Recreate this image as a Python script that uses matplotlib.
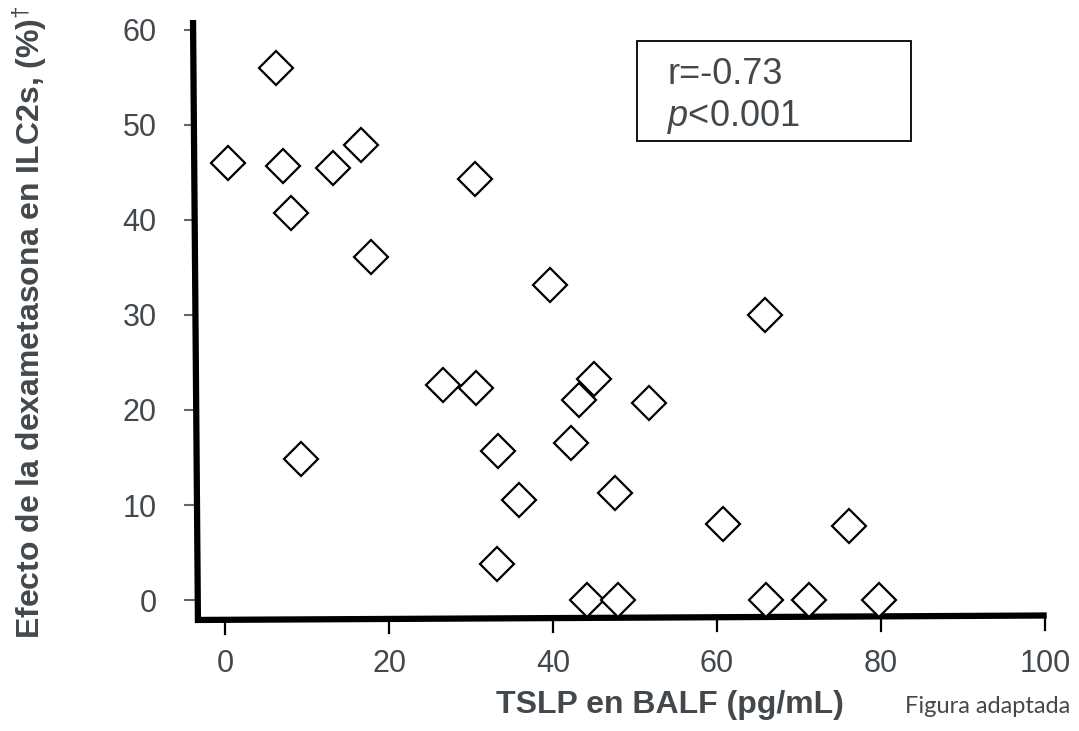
import matplotlib
matplotlib.use("Agg")
import matplotlib.pyplot as plt
from matplotlib.patches import Rectangle
import numpy as np

# TSLP in BALF (pg/mL) vs dexamethasone effect on ILC2s (%)
tslp = [0.4, 6.2, 7.1, 8.0, 9.3, 13.2, 16.6, 17.8, 26.6, 30.5, 30.6, 33.3, 33.2, 35.9,
        39.6, 42.2, 43.2, 45.0, 44.1, 47.6, 47.9, 51.7, 60.7, 65.9, 66.0, 71.2, 76.1, 79.8]
efecto = [46.0, 56.0, 45.7, 40.7, 14.8, 45.5, 47.9, 36.1, 22.6, 44.3, 22.3, 15.7, 3.8, 10.5,
          33.2, 16.5, 21.1, 23.3, 0.0, 11.3, 0.0, 20.7, 8.0, 30.0, 0.0, 0.0, 7.8, 0.0]

xticks = [0, 20, 40, 60, 80, 100]
yticks = [0, 10, 20, 30, 40, 50, 60]

TXT = "#43484d"

plt.rcParams['font.family'] = ['Liberation Sans', 'DejaVu Sans']
plt.rcParams['mathtext.fontset'] = 'custom'
plt.rcParams['mathtext.rm'] = 'Liberation Sans'
plt.rcParams['mathtext.it'] = 'Liberation Sans:italic'
plt.rcParams['mathtext.bf'] = 'Liberation Sans:bold'

W, H = 1079, 731
fig = plt.figure(figsize=(W / 100, H / 100), dpi=100)
ax = fig.add_axes([190 / W, (H - 625) / H, 860 / W, 607 / H])
ax.set_xlim(-4.27, 100.6)
ax.set_ylim(-2.63, 61.26)
for s in ax.spines.values():
    s.set_visible(False)

# hand-drawn looking thick axes
ax.plot([-3.9, -3.3], [61.05, -2.42], color="black", lw=4.5, clip_on=False,
        solid_capstyle="butt", zorder=4)
xa = [-3.66, 100.2]
ya = [-2.1, -1.63]
ax.plot(xa, ya, color="black", lw=4.5, clip_on=False, solid_capstyle="butt", zorder=4)

# x ticks hanging from the axis line
for t in xticks:
    yl = np.interp(t, xa, ya)
    ax.plot([t, t], [yl, yl - 1.5], color="black", lw=1.6, clip_on=False, zorder=4)

ax.set_xticks(xticks)
ax.set_yticks(yticks)
ax.tick_params(axis="x", length=0, pad=17, labelsize=22, labelcolor=TXT)
ax.tick_params(axis="y", direction="inout", length=8, width=1.5, color="#666666",
               pad=20, labelsize=22, labelcolor=TXT)

ax.plot(tslp, efecto, ls="none", marker="D", ms=17, mfc="white", mec="black",
        mew=1.6, clip_on=False, zorder=5)

fig.text(670 / W, 1 - 713 / H, "TSLP en BALF (pg/mL)", ha="center", va="baseline",
         fontsize=23, fontweight="bold", color=TXT)
fig.text(30 / W, 1 - 322 / H, r"Efecto de la dexametasona en ILC2s, (%)$^{\dagger}$",
         rotation=90, ha="center", va="center", fontsize=23, fontweight="bold", color=TXT)
fig.text(905 / W, 1 - 713 / H, "Figura adaptada", ha="left", va="baseline",
         fontsize=17, color=TXT, family="Lato")

fig.patches.append(Rectangle((637 / W, 1 - 141 / H), 274 / W, 100 / H,
                             transform=fig.transFigure, fill=False, lw=1.3,
                             edgecolor="black"))
fig.text(667 / W, 1 - 74 / H, "r=-0.73", ha="left", va="center", fontsize=26, color=TXT)
fig.text(667 / W, 1 - 117 / H, r"$\mathit{p}$<0.001", ha="left", va="center",
         fontsize=26, color=TXT)

fig.savefig("out.png", dpi=100)
